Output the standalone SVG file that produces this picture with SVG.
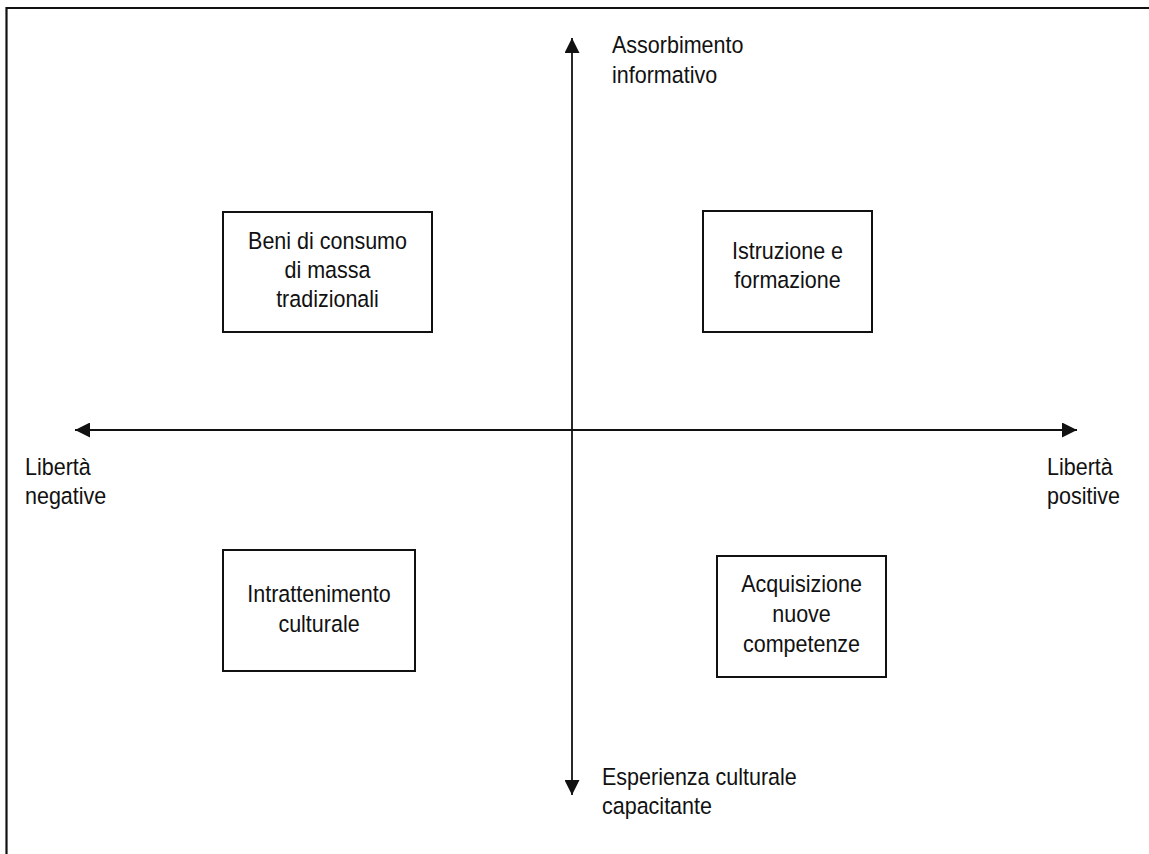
<svg xmlns="http://www.w3.org/2000/svg" width="1149" height="854" viewBox="0 0 1149 854">
<style>
text{font-family:"Liberation Sans",Arial,sans-serif;font-size:23.5px;fill:#111;}
.c{text-anchor:middle;}
.box{fill:#fff;stroke:#111;stroke-width:2;}
.axis{stroke:#111;stroke-width:1.8;fill:none;}
</style>
<defs>
<marker id="ah" viewBox="0 0 15 15" refX="15" refY="7.5" markerWidth="15" markerHeight="15" markerUnits="userSpaceOnUse" orient="auto">
<path d="M0,0 L15,7.5 L0,15 Z" fill="#111"/>
</marker>
</defs>
<rect width="1149" height="854" fill="#fff"/>
<g id="frame">
<path d="M6.5,854 L6.5,8 L1149,8" fill="none" stroke="#111" stroke-width="2.2"/>
</g>
<g id="connectors">
<line class="axis" x1="572" y1="430" x2="572" y2="38" marker-end="url(#ah)"/>
<line class="axis" x1="572" y1="430" x2="572" y2="795" marker-end="url(#ah)"/>
<line class="axis" x1="572" y1="430" x2="75" y2="430" marker-end="url(#ah)"/>
<line class="axis" x1="572" y1="430" x2="1077" y2="430" marker-end="url(#ah)"/>
</g>
<g id="label-top" transform="translate(612,0) scale(0.915,1)">
<text x="0" y="53">Assorbimento</text>
<text x="0" y="83">informativo</text>
</g>
<g id="label-bottom" transform="translate(602,0) scale(0.915,1)">
<text x="0" y="785">Esperienza culturale</text>
<text x="0" y="814">capacitante</text>
</g>
<g id="label-left" transform="translate(25,0) scale(0.915,1)">
<text x="0" y="475">Libertà</text>
<text x="0" y="504">negative</text>
</g>
<g id="label-right" transform="translate(1047,0) scale(0.915,1)">
<text x="0" y="475">Libertà</text>
<text x="0" y="504">positive</text>
</g>
<g id="node-beni">
<rect class="box" x="223" y="212" width="209" height="120"/>
<g transform="translate(327.5,0) scale(0.915,1)">
<text class="c" x="0" y="249">Beni di consumo</text>
<text class="c" x="0" y="278">di massa</text>
<text class="c" x="0" y="307">tradizionali</text>
</g>
</g>
<g id="node-istruzione">
<rect class="box" x="703" y="211" width="169" height="121"/>
<g transform="translate(787.5,0) scale(0.915,1)">
<text class="c" x="0" y="259">Istruzione e</text>
<text class="c" x="0" y="288">formazione</text>
</g>
</g>
<g id="node-intrattenimento">
<rect class="box" x="223" y="550" width="192" height="121"/>
<g transform="translate(319,0) scale(0.915,1)">
<text class="c" x="0" y="602">Intrattenimento</text>
<text class="c" x="0" y="632">culturale</text>
</g>
</g>
<g id="node-acquisizione">
<rect class="box" x="717" y="556" width="169" height="121"/>
<g transform="translate(801.5,0) scale(0.915,1)">
<text class="c" x="0" y="592">Acquisizione</text>
<text class="c" x="0" y="622">nuove</text>
<text class="c" x="0" y="652">competenze</text>
</g>
</g>
</svg>
